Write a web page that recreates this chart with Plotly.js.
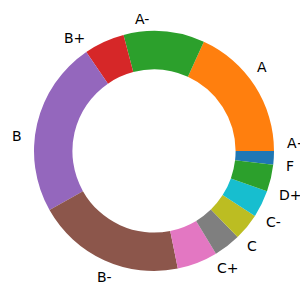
<!DOCTYPE html>
<html>
<head>
<meta charset="utf-8">
<script src="https://cdn.plot.ly/plotly-3.0.1.min.js"></script>
<style>html,body{margin:0;padding:0;background:#fff;}#chart{width:300px;height:300px;}</style>
</head>
<body>
<div id="chart"></div>
<script>
const grades = ["A+", "A", "A-", "B+", "B", "B-", "C+", "C", "C-", "D+", "F"];
const counts = [1, 10, 6, 3, 13, 11, 3, 2, 2, 2, 2];
const colors = ["#1f77b4", "#ff7f0e", "#2ca02c", "#d62728", "#9467bd", "#8c564b",
                "#e377c2", "#7f7f7f", "#bcbd22", "#17becf", "#2ca02c"];

const trace = {
  type: "pie",
  labels: grades,
  values: counts,
  sort: false,
  direction: "counterclockwise",
  rotation: 90,
  hole: 0.68,
  marker: {colors: colors, line: {width: 0}},
  textinfo: "none",
  hoverinfo: "label+value",
  automargin: false,
  showlegend: false,
  domain: {x: [0, 1], y: [0, 1]}
};

// Labels placed like matplotlib's pie labels: at 1.1 x radius, on each slice's mid-angle
const total = counts.reduce((s, v) => s + v, 0);
const annotations = [];
let cum = 0;
grades.forEach((g, i) => {
  const mid = (cum + counts[i] / 2) / total * 2 * Math.PI;
  cum += counts[i];
  const cx = Math.cos(mid), cy = Math.sin(mid);
  annotations.push({
    text: g,
    xref: "paper", yref: "paper",
    x: 0.5 + 0.55 * cx,
    y: 0.5 + 0.55 * cy,
    xanchor: cx > 0 ? "left" : "right",
    yanchor: "middle",
    showarrow: false,
    borderpad: 0,
    font: {family: "DejaVu Sans", size: 14, color: "#000"}
  });
});

const layout = {
  width: 300, height: 300,
  margin: {l: 34, r: 26, t: 31, b: 29},
  paper_bgcolor: "#fff",
  plot_bgcolor: "#fff",
  showlegend: false,
  annotations: annotations,
  font: {family: "DejaVu Sans", size: 14, color: "#000"}
};

Plotly.newPlot("chart", [trace], layout, {staticPlot: true, displayModeBar: false});
</script>
</body>
</html>
